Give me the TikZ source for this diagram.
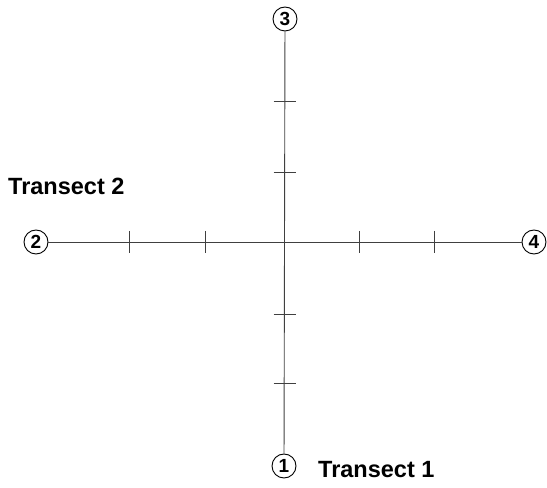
\documentclass[tikz,border=0pt]{standalone}
\usepackage{fontspec}
\setmainfont{Liberation Sans}
\begin{document}
\begin{tikzpicture}[x=1pt,y=1pt,
  axis/.style={line width=0.9pt, draw=black!75},
  tick/.style={line width=0.9pt, draw=black!75},
  station/.style={circle, draw=black, line width=0.9pt, minimum size=24pt, inner sep=0pt, font=\bfseries\fontsize{19}{19}\selectfont},
  tlabel/.style={font=\bfseries\fontsize{23.5}{23.5}\selectfont, anchor=base west, inner sep=0pt}]
\useasboundingbox (0,0) rectangle (547,488);
\coordinate (O) at (284.5,246);
\node[station] (s3) at (285,469) {3};
\node[station] (s1) at (284,22) {1};
\node[station] (s2) at (36,246) {2};
\node[station] (s4) at (534,246) {4};
\draw[axis] (s3) -- (s1);
\draw[axis] (s2) -- (s4);
\foreach \y/\n in {387/a,316/b,174/c,105/d}{
  \coordinate (v\n l) at (273.5,\y);
  \coordinate (v\n r) at (295.5,\y);
  \draw[tick] (v\n l) -- (v\n r);
}
\foreach \x/\n in {129/a,205/b,359/c,434/d}{
  \coordinate (h\n t) at (\x,257);
  \coordinate (h\n b) at (\x,235);
  \draw[tick] (h\n t) -- (h\n b);
}
\node[tlabel] (t2) at (8,293) {Transect 2};
\node[tlabel] (t1) at (318,10) {Transect 1};
\end{tikzpicture}
\end{document}
